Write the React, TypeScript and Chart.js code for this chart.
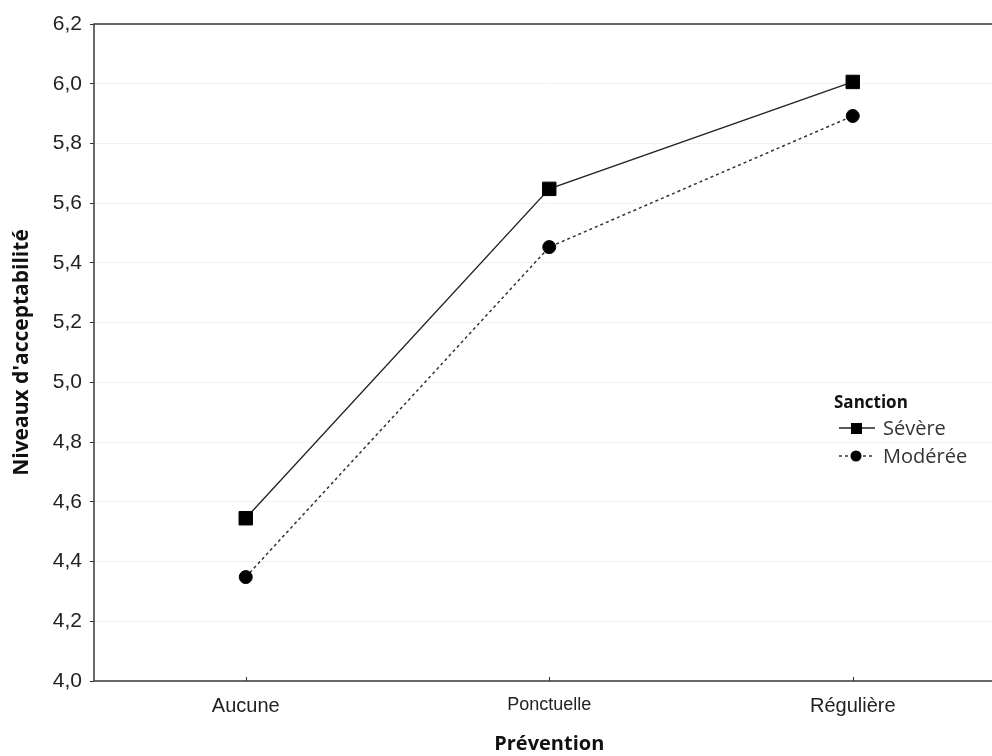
import React, { useEffect, useRef } from "react";
import { Chart, registerables } from "chart.js";

Chart.register(...registerables);

const categories = ["Aucune", "Ponctuelle", "Régulière"];
const severeValues = [4.545, 5.648, 6.006];
const modereeValues = [4.348, 5.453, 5.892];
const seriesNames = ["Sévère", "Modérée"];
const legendTitle = "Sanction";
const yTitle = "Niveaux d'acceptabilité";
const xTitle = "Prévention";

const overlayPlugin = {
  id: "overlay",
  afterDraw(chart: any) {
    const { ctx, chartArea } = chart;
    const { left, top, right, bottom } = chartArea;
    ctx.save();
    ctx.strokeStyle = "#3a3a3a";
    ctx.lineWidth = 1.5;
    ctx.beginPath();
    ctx.moveTo(right + 20, top);
    ctx.lineTo(left, top);
    ctx.lineTo(left, bottom);
    ctx.lineTo(right + 20, bottom);
    ctx.stroke();
    const xs = chart.scales.x;
    ctx.lineWidth = 1;
    ctx.strokeStyle = "#333";
    for (let i = 0; i < categories.length; i++) {
      const px = Math.round(xs.getPixelForValue(i)) + 0.5;
      ctx.beginPath();
      ctx.moveTo(px, bottom);
      ctx.lineTo(px, bottom - 4);
      ctx.stroke();
    }
    const lx = 834;
    const ly = 403;
    ctx.fillStyle = "#111";
    ctx.font = "bold 17px 'Open Sans'";
    ctx.textBaseline = "middle";
    ctx.textAlign = "left";
    ctx.fillText(legendTitle, lx, ly);
    const rows = chart.data.datasets;
    rows.forEach((ds: any, i: number) => {
      const y = ly + 25 + i * 28;
      ctx.strokeStyle = ds.borderColor;
      ctx.lineWidth = ds.borderWidth;
      ctx.setLineDash(ds.borderDash || []);
      ctx.beginPath();
      ctx.moveTo(839, y);
      ctx.lineTo(875, y);
      ctx.stroke();
      ctx.setLineDash([]);
      ctx.fillStyle = "#000";
      if (ds.pointStyle === "rect") {
        ctx.fillRect(851, y - 5, 11, 11);
      } else {
        ctx.beginPath();
        ctx.arc(856, y, 5.5, 0, Math.PI * 2);
        ctx.fill();
      }
      ctx.fillStyle = "#333";
      ctx.font = "20px 'Open Sans'";
      ctx.fillText(seriesNames[i], 883, y + 1);
    });
    ctx.restore();
  },
};

export default function App() {
  const ref = useRef<HTMLCanvasElement>(null);
  useEffect(() => {
    const canvas = ref.current;
    if (!canvas) return;
    const chart = new Chart(canvas, {
      type: "line",
      data: {
        labels: categories,
        datasets: [
          {
            label: seriesNames[0],
            data: severeValues,
            borderColor: "#222",
            borderWidth: 1.3,
            pointStyle: "rect",
            pointRadius: 9.5,
            pointBackgroundColor: "#000",
            pointBorderColor: "#000",
            pointBorderWidth: 1,
            tension: 0,
          },
          {
            label: seriesNames[1],
            data: modereeValues,
            borderColor: "#333",
            borderWidth: 1.5,
            borderDash: [3, 3],
            pointStyle: "circle",
            pointRadius: 6.5,
            pointBackgroundColor: "#000",
            pointBorderColor: "#000",
            pointBorderWidth: 1,
            tension: 0,
          },
        ],
      },
      options: {
        animation: false,
        responsive: false,
        maintainAspectRatio: false,
        layout: { padding: { top: 24, right: 0, bottom: 0, left: 0 } },
        plugins: { legend: { display: false }, tooltip: { enabled: false } },
        scales: {
          x: {
            type: "category",
            offset: true,
            grid: { display: false },
            border: { display: false },
            ticks: {
              color: "#222",
              padding: 5,
              font: (c: any) =>
                c.index === 1
                  ? { family: "'Liberation Sans', Arial", size: 18 }
                  : { family: "'Liberation Sans', Arial", size: 20 },
            },
            title: {
              display: true,
              text: xTitle,
              color: "#111",
              font: { family: "'Open Sans'", size: 20, weight: "bold" },
              padding: { top: 4, bottom: 0 },
            },
            afterFit: (s: any) => {
              s.height = 75;
            },
          },
          y: {
            min: 4.0,
            max: 6.2,
            ticks: {
              stepSize: 0.2,
              color: "#222",
              padding: 8,
              font: { family: "'Liberation Sans', Arial", size: 21 },
              callback: (v: any) => Number(v).toFixed(1).replace(".", ","),
            },
            grid: {
              color: "#f1f1f1",
              tickColor: "#333",
              tickLength: 4,
              drawTicks: true,
            },
            border: { display: false },
            title: {
              display: true,
              text: yTitle,
              color: "#111",
              font: { family: "'Open Sans'", size: 21, weight: "bold" },
              padding: { top: 9, bottom: 0 },
            },
            afterFit: (s: any) => {
              s.width = 94;
            },
          },
        },
      },
      plugins: [overlayPlugin],
    } as any);
    return () => chart.destroy();
  }, []);
  return (
    <div
      style={{
        position: "fixed",
        left: 0,
        top: 0,
        width: 992,
        height: 756,
        overflow: "hidden",
        background: "#fff",
      }}
    >
      <canvas ref={ref} width={1015} height={756} style={{ display: "block" }} />
    </div>
  );
}
